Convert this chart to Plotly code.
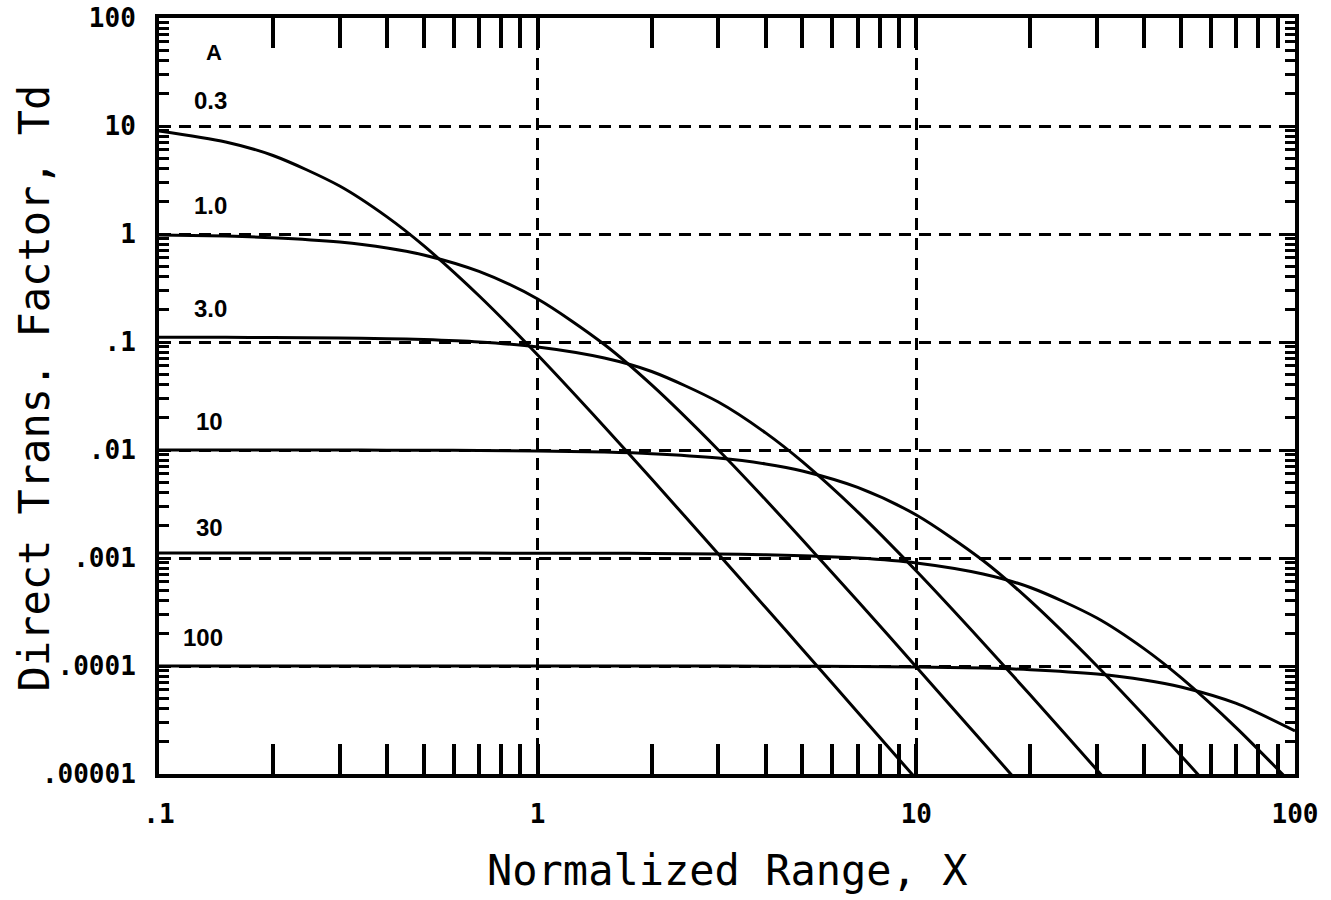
import plotly.graph_objects as go

# Curve parameter labels (A)
curve_labels = ["0.3", "1.0", "3.0", "10", "30", "100"]

# Normalized range X sample points
x_a03 = [0.1, 0.15, 0.2, 0.3, 0.4, 0.5, 0.7, 1, 1.5, 2, 3, 4, 5, 7, 10, 15]
td_a03 = [9.0, 7.11, 5.33, 2.78, 1.44, 0.779, 0.268, 0.0758, 0.01644, 0.00538,
          0.001089, 3.476e-4, 1.43e-4, 3.73e-5, 8.98e-6, 1.78e-6]

x_a1 = [0.1, 0.15, 0.2, 0.3, 0.4, 0.5, 0.7, 1, 1.5, 2, 3, 4, 5, 7, 10, 15, 20]
td_a1 = [0.980, 0.9565, 0.925, 0.842, 0.7432, 0.640, 0.450, 0.25, 0.0947, 0.04,
         0.01, 3.46e-3, 1.479e-3, 4.0e-4, 9.80e-5, 1.958e-5, 6.22e-6]

x_a3 = [0.1, 0.15, 0.2, 0.3, 0.4, 0.5, 0.7, 1, 1.5, 2, 3, 4, 5, 7, 10, 15, 20, 30, 40]
td_a3 = [0.1109, 0.11056, 0.1101, 0.1089, 0.10726, 0.1052, 0.0999, 0.09, 0.0711,
         0.0533, 0.0278, 0.0144, 0.00779, 0.002675, 7.575e-4, 1.644e-4, 5.38e-5,
         1.089e-5, 3.476e-6]

x_a10 = [0.1, 0.15, 0.2, 0.3, 0.4, 0.5, 0.7, 1, 1.5, 2, 3, 4, 5, 7, 10, 15, 20, 30, 40, 50, 70]
td_a10 = [0.009998, 0.009996, 0.009992, 0.009982, 0.009968, 0.009950, 0.009903,
          0.009803, 0.009565, 0.009246, 0.008418, 0.007432, 0.0064, 0.004504,
          0.0025, 9.47e-4, 4.0e-4, 1.0e-4, 3.46e-5, 1.479e-5, 4.0e-6]

x_a30 = [0.1, 0.2, 0.5, 1, 1.5, 2, 3, 4, 5, 7, 10, 15, 20, 30, 40, 50, 70, 100]
td_a30 = [0.0011111, 0.0011111, 0.0011108, 0.0011086, 0.0011056, 0.0011013,
          0.0010892, 0.0010726, 0.0010519, 0.0009993, 0.0009, 0.000711, 0.000533,
          0.000278, 0.000144, 7.79e-5, 2.675e-5, 7.575e-6]

x_a100 = [0.1, 0.5, 1, 2, 5, 7, 10, 15, 20, 30, 40, 50, 70, 100]
td_a100 = [1.0e-4, 1.0e-4, 1.0e-4, 9.999e-5, 9.95e-5, 9.90e-5, 9.80e-5, 9.565e-5,
           9.246e-5, 8.418e-5, 7.432e-5, 6.4e-5, 4.504e-5, 2.5e-5]

# Axis tick labels
x_decades = [0.1, 1, 10, 100]
x_ticktext = [".1", "1", "10", "100"]
y_decades = [1e-5, 1e-4, 1e-3, 1e-2, 1e-1, 1, 10, 100]
y_ticktext = [".00001", ".0001", ".001", ".01", ".1", "1", "10", "100"]

series = [(x_a03, td_a03), (x_a1, td_a1), (x_a3, td_a3),
          (x_a10, td_a10), (x_a30, td_a30), (x_a100, td_a100)]

fig = go.Figure()
for (xs, ys), lab in zip(series, curve_labels):
    fig.add_trace(go.Scatter(x=xs, y=ys, mode="lines", name="A=" + lab,
                             line=dict(color="black", width=3, shape="spline", smoothing=0.8),
                             showlegend=False))

def minor_vals(decades):
    return [m * d for d in decades[:-1] for m in range(2, 10)]

tickfont = dict(family="DejaVu Sans Mono", size=26, color="black", weight="bold")
grid_dash = "12px,8px"

fig.update_xaxes(
    type="log", range=[-1, 2],
    tickmode="array", tickvals=x_decades, ticktext=x_ticktext,
    ticks="inside", ticklen=30, tickwidth=3.5, tickcolor="black",
    showline=True, linecolor="black", linewidth=4, mirror="ticks",
    showgrid=True, gridcolor="black", gridwidth=3, griddash=grid_dash,
    zeroline=False, tickfont=tickfont, ticklabelstandoff=14,
    ticklabeloverflow="allow",
    minor=dict(tickmode="array", tickvals=minor_vals(x_decades), ticks="inside",
               ticklen=30, tickwidth=3.5, tickcolor="black", showgrid=False),
)
fig.update_yaxes(
    type="log", range=[-5, 2],
    tickmode="array", tickvals=y_decades, ticktext=y_ticktext,
    ticks="inside", ticklen=10, tickwidth=2.5, tickcolor="black",
    showline=True, linecolor="black", linewidth=4, mirror="ticks",
    showgrid=True, gridcolor="black", gridwidth=3, griddash=grid_dash,
    zeroline=False, tickfont=tickfont, ticklabelstandoff=14,
    ticklabeloverflow="allow",
    minor=dict(tickmode="array", tickvals=minor_vals(y_decades), ticks="inside",
               ticklen=10, tickwidth=2.5, tickcolor="black", showgrid=False),
)

label_font = dict(family="Liberation Sans", size=24, color="black", weight="bold")
label_pos = [(0.029, 0.8915), (0.029, 0.7526), (0.029, 0.6164),
             (0.031, 0.4669), (0.031, 0.3254), (0.019, 0.1812)]
annotations = [dict(text="A", x=0.040, y=0.955, xref="paper", yref="paper",
                    xanchor="left", yanchor="middle", showarrow=False,
                    font=dict(family="Liberation Sans", size=22, color="black", weight="bold"))]
for lab, (px, py) in zip(curve_labels, label_pos):
    annotations.append(dict(text=lab, x=px, y=py, xref="paper", yref="paper",
                            xanchor="left", yanchor="middle", showarrow=False, font=label_font))

title_font = dict(family="DejaVu Sans Mono", size=42, color="black")
annotations.append(dict(text="Normalized Range, X", x=0.5, y=-0.127, xref="paper", yref="paper",
                        xanchor="center", yanchor="middle", showarrow=False, font=title_font))
annotations.append(dict(text="Direct Trans. Factor, Td", x=-0.110, y=0.51, xref="paper", yref="paper",
                        xanchor="center", yanchor="middle", showarrow=False, textangle=-90,
                        font=title_font))

fig.update_layout(
    width=1331, height=900,
    margin=dict(l=159, r=36, t=18, b=126, autoexpand=False),
    paper_bgcolor="white", plot_bgcolor="white",
    annotations=annotations,
)

fig.write_html("out.html",
               config={"displayModeBar": False},
               post_script="document.body.style.margin='0';document.body.style.overflow='hidden';")
